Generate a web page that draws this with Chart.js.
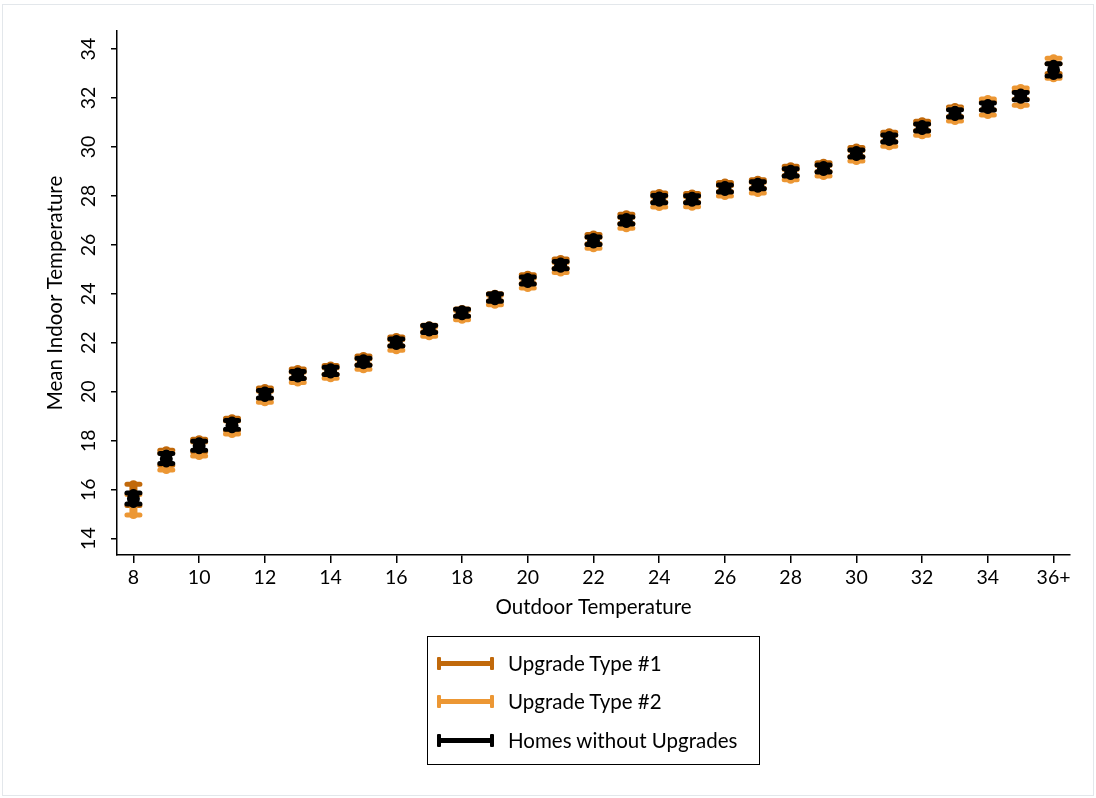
<!DOCTYPE html>
<html>
<head>
<meta charset="utf-8">
<title>Mean Indoor Temperature by Outdoor Temperature</title>
<script src="https://cdn.jsdelivr.net/npm/chart.js@4/dist/chart.umd.min.js"></script>
<style>
  html, body { margin: 0; padding: 0; background: #fff; }
  #wrap { position: relative; width: 1096px; height: 798px; overflow: hidden; }
  #frame { position: absolute; left: 2px; top: 4px; right: 2px; bottom: 2px; border: 1px solid #e3e7eb; pointer-events: none; }
  #chart { position: absolute; left: 0; top: 0; }
  #legend { position: absolute; left: 427px; top: 636px; width: 331px; height: 127px; border: 1.5px solid #000;
            font-family: Lato, sans-serif; font-size: 20.5px; color: #000; }
  .item { position: absolute; left: 9px; height: 20px; display: flex; align-items: center; }
  .sym { position: relative; width: 57px; height: 13px; margin-right: 14px; }
  .sym .bar { position: absolute; left: 0; right: 0; top: 4px; height: 5px; }
  .sym .cap { position: absolute; top: 0; width: 4px; height: 13px; border-radius: 1px; }
</style>
</head>
<body>
<div id="wrap">
  <canvas id="chart" width="1096" height="798"></canvas>
  <div id="legend"></div>
  <div id="frame"></div>
</div>
<script>
// outdoor temperature bins
const categories = ['8', '9', '10', '11', '12', '13', '14', '15', '16', '17', '18', '19', '20', '21', '22',
  '23', '24', '25', '26', '27', '28', '29', '30', '31', '32', '33', '34', '35', '36+'];
const yTicks = [14, 16, 18, 20, 22, 24, 26, 28, 30, 32, 34];

// homes without upgrades: mean and CI
const noneMean = [15.63, 17.26, 17.79, 18.62, 19.89, 20.68, 20.85, 21.22, 22.01, 22.56, 23.22, 23.84, 24.54, 25.17, 26.17,
  26.99, 27.87, 27.86, 28.30, 28.43, 28.96, 29.12, 29.73, 30.34, 30.79, 31.37, 31.65, 32.08, 33.15];
const noneLow = [15.41, 17.07, 17.61, 18.47, 19.74, 20.54, 20.71, 21.08, 21.87, 22.42, 23.08, 23.70, 24.40, 25.03, 26.02,
  26.85, 27.72, 27.72, 28.16, 28.29, 28.82, 28.98, 29.59, 30.20, 30.65, 31.23, 31.51, 31.93, 32.90];
const noneHigh = [15.86, 17.48, 17.98, 18.83, 20.05, 20.83, 21.00, 21.37, 22.16, 22.71, 23.37, 23.99, 24.69, 25.32, 26.32,
  27.14, 28.02, 28.01, 28.45, 28.58, 29.11, 29.27, 29.88, 30.49, 30.94, 31.52, 31.80, 32.23, 33.40];

// upgrade type #1
const upgrade1Mean = [15.70, 17.28, 17.80, 18.64, 19.91, 20.72, 20.88, 21.25, 22.04, 22.58, 23.24, 23.86, 24.58, 25.21, 26.21,
  27.03, 27.91, 27.90, 28.34, 28.47, 29.00, 29.16, 29.77, 30.38, 30.83, 31.41, 31.68, 32.10, 33.18];
const upgrade1Low = [15.35, 17.00, 17.55, 18.42, 19.72, 20.55, 20.72, 21.10, 21.88, 22.45, 23.10, 23.72, 24.42, 25.05, 26.05,
  26.87, 27.75, 27.74, 28.18, 28.31, 28.84, 29.00, 29.61, 30.22, 30.67, 31.25, 31.52, 31.95, 33.00];
const upgrade1High = [16.22, 17.61, 18.06, 18.92, 20.15, 20.93, 21.07, 21.46, 22.24, 22.72, 23.38, 24.00, 24.78, 25.42, 26.43,
  27.25, 28.12, 28.10, 28.55, 28.66, 29.21, 29.36, 29.98, 30.60, 31.05, 31.63, 31.85, 32.28, 33.40];

// upgrade type #2
const upgrade2Mean = [15.38, 17.15, 17.66, 18.53, 19.80, 20.59, 20.76, 21.13, 21.91, 22.46, 23.13, 23.75, 24.44, 25.07, 26.08,
  26.90, 27.76, 27.76, 28.21, 28.33, 28.87, 29.03, 29.64, 30.25, 30.70, 31.30, 31.63, 32.06, 33.22];
const upgrade2Low = [14.96, 16.80, 17.37, 18.27, 19.57, 20.38, 20.55, 20.92, 21.70, 22.27, 22.94, 23.56, 24.24, 24.87, 25.86,
  26.68, 27.55, 27.56, 28.00, 28.12, 28.66, 28.82, 29.43, 30.03, 30.48, 31.06, 31.31, 31.71, 32.81];
const upgrade2High = [15.80, 17.50, 17.95, 18.80, 20.02, 20.80, 20.97, 21.34, 22.12, 22.66, 23.32, 23.94, 24.64, 25.28, 26.30,
  27.12, 27.98, 27.97, 28.42, 28.55, 29.08, 29.24, 29.86, 30.47, 30.93, 31.55, 31.96, 32.41, 33.63];

const seriesNames = ['Upgrade Type #1', 'Upgrade Type #2', 'Homes without Upgrades'];
const seriesColors = ['#c1690b', '#ec9734', '#000000'];

const FONT = 'Lato';
const TICK_SIZE = 19.5;
const TITLE_SIZE = 20.5;

// draw the capped error bars under the points, in dataset order
const errorBars = {
  id: 'errorBars',
  beforeDatasetsDraw(chart) {
    const ctx = chart.ctx;
    const yScale = chart.scales.y;
    chart.data.datasets.forEach((ds, di) => {
      const meta = chart.getDatasetMeta(di);
      ctx.save();
      ctx.strokeStyle = ds.errColor;
      ctx.lineCap = 'round';
      meta.data.forEach((pt, i) => {
        const x = pt.x;
        const yLo = yScale.getPixelForValue(ds.errLow[i]);
        const yHi = yScale.getPixelForValue(ds.errHigh[i]);
        ctx.lineWidth = 8;
        ctx.beginPath();
        ctx.moveTo(x, yLo);
        ctx.lineTo(x, yHi);
        ctx.stroke();
        ctx.lineWidth = 5;
        ctx.beginPath();
        ctx.moveTo(x - 6.5, yLo); ctx.lineTo(x + 6.5, yLo);
        ctx.moveTo(x - 6.5, yHi); ctx.lineTo(x + 6.5, yHi);
        ctx.stroke();
      });
      ctx.restore();
    });
  }
};

// y tick labels turned 90 degrees, like the original
const rotatedYLabels = {
  id: 'rotatedYLabels',
  afterDraw(chart) {
    const ctx = chart.ctx;
    const s = chart.scales.y;
    ctx.save();
    ctx.fillStyle = '#000';
    ctx.font = TICK_SIZE + 'px ' + FONT;
    ctx.textAlign = 'center';
    ctx.textBaseline = 'middle';
    s.ticks.forEach(t => {
      const y = s.getPixelForValue(t.value);
      ctx.save();
      ctx.translate(s.right - 28, y);
      ctx.rotate(-Math.PI / 2);
      ctx.fillText(String(t.value), 0, 0);
      ctx.restore();
    });
    ctx.restore();
  }
};

const chart = new Chart(document.getElementById('chart'), {
  type: 'line',
  data: {
    labels: categories,
    datasets: [
      { label: seriesNames[0], data: upgrade1Mean, errLow: upgrade1Low, errHigh: upgrade1High, errColor: seriesColors[0],
        showLine: false, order: 0, pointRadius: 0 },
      { label: seriesNames[1], data: upgrade2Mean, errLow: upgrade2Low, errHigh: upgrade2High, errColor: seriesColors[1],
        showLine: false, order: 2, pointRadius: 0 },
      { label: seriesNames[2], data: noneMean, errLow: noneLow, errHigh: noneHigh, errColor: seriesColors[2],
        showLine: false, order: 1, pointRadius: 6.5, pointBorderWidth: 0, pointBackgroundColor: '#000' }
    ]
  },
  options: {
    responsive: false,
    animation: false,
    layout: { padding: { top: 31, right: 26, left: 0, bottom: 173 } },
    plugins: { legend: { display: false }, tooltip: { enabled: false } },
    scales: {
      x: {
        type: 'category',
        offset: true,
        grid: { drawOnChartArea: false, drawTicks: true, tickLength: 8, color: '#000', lineWidth: 1.5, offset: false },
        border: { display: true, color: '#000', width: 1.5 },
        ticks: { autoSkip: false, maxRotation: 0, minRotation: 0, padding: 3, color: '#000', font: { family: FONT, size: TICK_SIZE } },
        title: { display: true, text: 'Outdoor Temperature', color: '#000', font: { family: FONT, size: TITLE_SIZE },
                 padding: { top: 0, bottom: 5 } },
        afterBuildTicks: s => { s.ticks = s.ticks.filter((t, i) => i % 2 === 0); },
        afterFit: s => { s.height = 70; }
      },
      y: {
        min: 13.33,
        max: 34.74,
        grid: { drawOnChartArea: false, drawTicks: true, tickLength: 6, color: '#000', lineWidth: 1.5 },
        border: { display: true, color: '#000', width: 1.5 },
        ticks: { color: 'rgba(0,0,0,0)', font: { family: FONT, size: TICK_SIZE } },
        title: { display: true, text: 'Mean Indoor Temperature', color: '#000', font: { family: FONT, size: TITLE_SIZE },
                 padding: { top: 43, bottom: 0 } },
        afterBuildTicks: s => { s.ticks = yTicks.map(v => ({ value: v })); },
        afterFit: s => { s.width = 117; }
      }
    }
  },
  plugins: [errorBars, rotatedYLabels]
});

// legend box below the chart
const legend = document.getElementById('legend');
const rowTops = [16, 54, 93];
seriesNames.forEach((name, i) => {
  const item = document.createElement('div');
  item.className = 'item';
  item.style.top = rowTops[i] + 'px';
  const c = seriesColors[i];
  item.innerHTML =
    '<div class="sym"><div class="bar" style="background:' + c + '"></div>' +
    '<div class="cap" style="left:0;background:' + c + '"></div>' +
    '<div class="cap" style="right:0;background:' + c + '"></div></div>' +
    '<span>' + name + '</span>';
  legend.appendChild(item);
});
</script>
</body>
</html>
